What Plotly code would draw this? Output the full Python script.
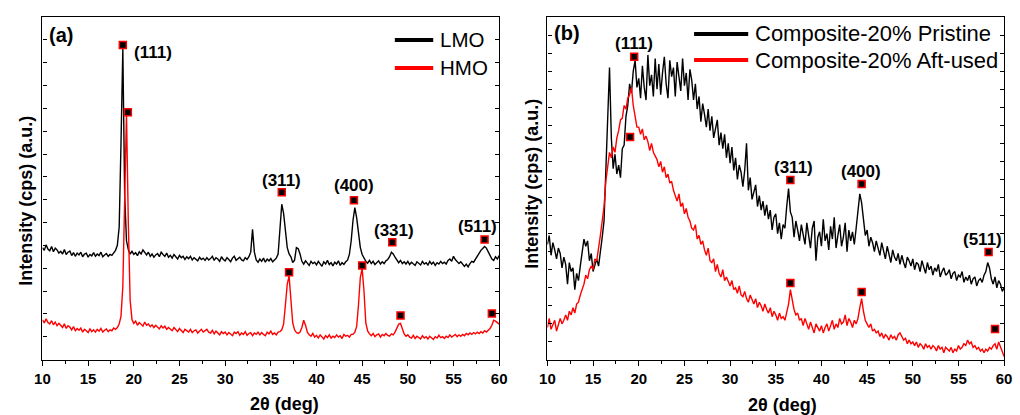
import plotly.graph_objects as go

# 2-theta sampling grid, 10-60 deg in 0.2 deg steps (251 points)
two_theta = [round(10 + 0.2 * i, 1) for i in range(251)]

# ---- panel (a): LMO / HMO -------------------------------------------------
lmo = [
    4.90, 4.78, 5.02, 4.84, 4.76, 4.95, 4.72, 4.88, 4.80, 4.66,
    4.74, 4.62, 4.82, 4.60, 4.70, 4.75, 4.55, 4.68, 4.52, 4.66,
    4.58, 4.70, 4.50, 4.62, 4.66, 4.48, 4.60, 4.54, 4.68, 4.52,
    4.62, 4.55, 4.70, 4.50, 4.58, 4.64, 4.52, 4.60, 4.56, 4.70,
    4.78, 5.00, 5.80, 9.50, 13.60, 7.20, 5.20, 4.82, 4.62, 4.74,
    4.60, 4.68, 4.55, 4.72, 4.62, 4.80, 4.66, 4.58, 4.70, 4.52,
    4.62, 4.48, 4.58, 4.64, 4.50, 4.70, 4.60, 4.52, 4.66, 4.48,
    4.56, 4.44, 4.60, 4.50, 4.40, 4.56, 4.46, 4.52, 4.38, 4.50,
    4.42, 4.52, 4.36, 4.46, 4.40, 4.32, 4.48, 4.38, 4.44, 4.34,
    4.46, 4.36, 4.42, 4.52, 4.34, 4.46, 4.40, 4.30, 4.50, 4.38,
    4.32, 4.46, 4.38, 4.28, 4.44, 4.52, 4.34, 4.42, 4.48, 4.36,
    4.32, 4.46, 4.38, 4.50, 4.70, 5.70, 4.70, 4.36, 4.26, 4.40,
    4.30, 4.44, 4.26, 4.40, 4.32, 4.42, 4.28, 4.36, 4.44, 4.62,
    5.60, 6.80, 6.40, 5.50, 4.90, 4.62, 4.50, 4.25, 4.35, 4.90,
    4.85, 4.62, 4.30, 4.18, 4.32, 4.22, 4.12, 4.30, 4.20, 4.26,
    4.14, 4.30, 4.20, 4.08, 4.28, 4.18, 4.34, 4.16, 4.24, 4.10,
    4.26, 4.18, 4.32, 4.12, 4.24, 4.16, 4.28, 4.35, 4.60, 5.20,
    6.10, 6.65, 6.20, 5.40, 4.90, 4.60, 4.42, 4.30, 4.22, 4.34,
    4.20, 4.30, 4.16, 4.26, 4.32, 4.18, 4.28, 4.20, 4.32, 4.38,
    4.50, 4.70, 4.62, 4.48, 4.36, 4.24, 4.34, 4.20, 4.28, 4.18,
    4.30, 4.16, 4.26, 4.20, 4.12, 4.28, 4.22, 4.14, 4.30, 4.18,
    4.24, 4.14, 4.30, 4.18, 4.26, 4.12, 4.24, 4.18, 4.30, 4.20,
    4.26, 4.18, 4.34, 4.40, 4.30, 4.52, 4.38, 4.28, 4.20, 4.28,
    4.16, 4.08, 4.18, 4.06, 4.20, 4.30, 4.26, 4.40, 4.48, 4.62,
    4.78, 4.86, 4.95, 4.88, 4.72, 4.56, 4.40, 4.34, 4.50, 4.40,
    4.55,
]

hmo = [
    1.74, 1.60, 1.78, 1.62, 1.56, 1.70, 1.52, 1.64, 1.48, 1.58,
    1.50, 1.40, 1.56, 1.36, 1.48, 1.42, 1.30, 1.44, 1.26, 1.36,
    1.28, 1.38, 1.20, 1.32, 1.26, 1.18, 1.34, 1.22, 1.30, 1.20,
    1.32, 1.24, 1.36, 1.20, 1.28, 1.34, 1.22, 1.30, 1.26, 1.38,
    1.32, 1.40, 1.55, 1.90, 3.20, 7.50, 10.80, 6.00, 2.60, 1.75,
    1.58, 1.68, 1.50, 1.62, 1.54, 1.46, 1.64, 1.50, 1.56, 1.44,
    1.52, 1.40, 1.50, 1.44, 1.34, 1.48, 1.38, 1.46, 1.32, 1.40,
    1.34, 1.26, 1.40, 1.30, 1.22, 1.36, 1.28, 1.18, 1.32, 1.24,
    1.20, 1.32, 1.18, 1.26, 1.30, 1.16, 1.24, 1.32, 1.20, 1.28,
    1.32, 1.20, 1.16, 1.28, 1.12, 1.24, 1.18, 1.08, 1.22, 1.14,
    1.20, 1.08, 1.18, 1.12, 1.04, 1.20, 1.14, 1.22, 1.06, 1.16,
    1.10, 1.22, 1.06, 1.14, 1.18, 1.04, 1.16, 1.10, 1.20, 1.08,
    1.18, 1.10, 1.04, 1.20, 1.12, 1.24, 1.10, 1.16, 1.08, 1.20,
    1.22, 1.30, 1.55, 2.40, 3.30, 3.65, 2.60, 1.60, 1.30, 1.18,
    1.14, 1.20, 1.40, 1.72, 1.50, 1.20, 1.08, 1.02, 1.14, 0.98,
    1.06, 0.94, 1.08, 1.00, 0.90, 1.04, 0.96, 1.08, 0.94, 1.02,
    0.96, 1.08, 0.98, 1.04, 0.92, 1.10, 1.02, 1.06, 0.98, 1.10,
    1.10, 1.20, 1.45, 2.40, 3.60, 3.98, 3.00, 1.60, 1.25, 1.12,
    1.04, 1.14, 1.00, 1.08, 1.12, 0.98, 1.10, 1.04, 1.14, 1.06,
    1.02, 1.12, 1.08, 1.20, 1.36, 1.55, 1.58, 1.30, 1.12, 1.02,
    1.08, 0.98, 0.94, 1.06, 0.92, 1.02, 0.96, 0.90, 1.04, 0.94,
    1.00, 0.90, 1.02, 0.96, 0.88, 1.00, 0.94, 1.06, 0.96, 1.00,
    0.92, 1.02, 0.96, 1.08, 0.98, 1.04, 1.10, 1.00, 1.08, 1.02,
    1.10, 1.04, 1.14, 1.08, 1.16, 1.10, 1.18, 1.12, 1.20, 1.14,
    1.22, 1.16, 1.26, 1.20, 1.28, 1.36, 1.50, 1.72, 1.68, 1.62,
    1.55,
]

# ---- panel (b): Composite-20% pristine / after use ------------------------
pristine = [
    6.40, 6.90, 5.80, 6.50, 6.10, 5.60, 6.20, 5.90, 5.10, 5.70,
    5.30, 4.20, 5.40, 4.90, 5.10, 3.90, 4.80, 4.40, 5.20, 5.90,
    6.70, 6.30, 6.60, 5.50, 5.90, 4.90, 5.30, 5.60, 5.20, 5.90,
    6.80, 7.70, 10.40, 12.60, 16.20, 12.30, 10.60, 11.40, 10.30, 10.80,
    10.10, 11.70, 11.90, 13.50, 14.10, 15.30, 14.80, 16.00, 16.60, 15.10,
    15.60, 14.50, 16.30, 15.10, 14.40, 16.90, 15.20, 15.80, 14.60, 16.70,
    15.00, 16.40, 14.70, 15.90, 16.80, 15.30, 14.50, 16.60, 15.70, 16.20,
    14.60, 16.50, 15.60, 14.90, 16.70, 15.20, 15.90, 14.40, 16.10, 15.50,
    14.40, 15.30, 13.90, 14.60, 13.20, 14.20, 13.60, 12.90, 13.90, 12.70,
    13.50, 12.30, 12.80, 13.30, 11.90, 12.60, 11.70, 12.50, 11.20, 12.00,
    10.90, 11.80, 10.50, 11.20, 10.00, 10.80, 10.40, 9.60, 10.50, 12.00,
    9.40, 10.10, 8.90, 9.30, 9.70, 8.50, 9.10, 8.30, 8.80, 8.00,
    8.60, 7.80, 8.30, 7.20, 7.90, 8.10, 7.00, 7.60, 6.70, 7.50,
    7.30, 8.50, 9.50, 8.20, 7.90, 6.80, 7.70, 7.20, 6.60, 7.50,
    7.00, 6.40, 7.60, 6.90, 6.20, 7.30, 7.70, 5.50, 6.80, 7.10,
    6.30, 7.80, 6.60, 7.00, 6.10, 7.40, 6.70, 7.90, 6.20, 6.90,
    7.50, 6.30, 6.80, 7.60, 6.00, 7.20, 6.60, 7.10, 6.40, 7.30,
    8.10, 9.20, 8.70, 7.60, 6.90, 7.20, 6.30, 6.80, 6.50, 6.00,
    6.60, 6.20, 5.80, 6.50, 6.00, 5.60, 6.30, 5.90, 5.40, 6.10,
    5.70, 5.50, 5.90, 5.30, 5.80, 5.40, 5.10, 5.70, 5.50, 5.20,
    5.60, 5.00, 5.40, 5.30, 4.90, 5.50, 5.10, 4.80, 5.40, 5.00,
    5.20, 4.70, 5.10, 4.90, 5.30, 4.60, 4.90, 5.10, 4.70, 4.80,
    5.00, 4.50, 4.80, 4.90, 4.40, 4.70, 4.60, 4.90, 4.30, 4.60,
    4.40, 4.70, 4.20, 4.50, 4.60, 4.10, 4.40, 4.50, 4.30, 4.70,
    4.90, 5.40, 5.10, 4.50, 4.20, 4.60, 4.00, 4.40, 4.20, 3.80,
    4.00,
]

aft_used = [
    1.80, 2.30, 1.70, 2.00, 2.20, 1.60, 1.90, 2.30, 2.00, 2.20,
    2.50, 2.20, 2.70, 2.50, 2.90, 2.60, 3.10, 3.20, 3.60, 3.90,
    4.20, 4.70, 4.50, 5.00, 5.20, 5.00, 5.60, 5.50, 6.10, 6.90,
    7.70, 8.50, 9.90, 10.90, 11.50, 11.20, 11.80, 11.50, 12.30, 12.70,
    13.30, 13.40, 14.10, 13.90, 14.50, 14.70, 15.10, 14.10, 13.60, 12.90,
    12.90, 12.50, 12.80, 12.20, 12.40, 12.10, 11.60, 12.00, 11.50, 11.30,
    11.10, 10.70, 11.00, 10.40, 10.70, 10.10, 10.30, 9.80, 9.90, 9.40,
    9.10, 8.80, 9.20, 8.50, 8.70, 8.10, 8.40, 7.90, 7.70, 7.30,
    7.20, 7.50, 6.70, 6.90, 6.40, 6.60, 6.10, 5.80, 6.20, 5.50,
    5.40, 5.60, 4.90, 5.30, 4.80, 4.60, 5.00, 4.40, 4.60, 4.30,
    4.10, 4.40, 3.90, 4.00, 3.70, 4.10, 3.60, 3.50, 3.80, 3.40,
    3.20, 3.60, 3.30, 3.10, 3.40, 2.90, 3.20, 3.00, 2.70, 3.10,
    2.80, 2.60, 2.90, 2.40, 2.70, 2.50, 2.20, 2.60, 2.30, 2.40,
    2.20, 2.60, 3.10, 3.90, 3.30, 2.80, 2.50, 2.60, 2.20, 2.30,
    1.90, 2.30, 2.00, 1.70, 2.10, 1.80, 1.50, 2.00, 1.80, 1.60,
    1.90, 1.50, 1.80, 2.00, 1.60, 1.90, 2.20, 1.70, 2.00, 1.80,
    2.30, 2.00, 2.10, 2.50, 1.90, 2.30, 2.10, 1.80, 2.20, 2.00,
    2.30, 2.90, 3.40, 2.70, 2.20, 2.00, 1.80, 2.00, 1.60, 1.70,
    1.50, 1.60, 1.30, 1.50, 1.20, 1.40, 1.30, 1.10, 1.40, 1.20,
    1.30, 1.10, 1.40, 1.50, 1.30, 1.10, 1.20, 0.90, 1.10, 0.90,
    1.00, 0.80, 1.00, 0.70, 0.90, 0.80, 0.60, 0.90, 0.70, 0.80,
    0.60, 0.80, 0.70, 0.50, 0.80, 0.60, 0.70, 0.40, 0.70, 0.60,
    0.50, 0.70, 0.40, 0.60, 0.50, 0.80, 0.60, 0.70, 0.90, 0.80,
    1.10, 0.90, 1.00, 0.70, 0.80, 0.60, 0.70, 0.50, 0.60, 0.40,
    0.60, 0.50, 0.70, 0.60, 0.80, 0.90, 0.60, 1.00, 0.70, 0.40,
    0.20,
]

for series in (lmo, hmo, pristine, aft_used):
    assert len(series) == len(two_theta)

# spinel reflection markers and hkl labels
a_lmo_peak_x = [18.8, 36.2, 44.1, 48.3, 58.4]
a_lmo_peak_y = [13.77, 7.32, 6.97, 5.13, 5.26]
a_hmo_peak_x = [19.35, 37.0, 45.0, 49.2, 59.2]
a_hmo_peak_y = [10.83, 3.82, 4.12, 1.93, 2.02]
a_hkl = ["(111)", "(311)", "(400)", "(331)", "(511)"]
a_hkl_x = [22.1, 36.2, 44.1, 48.45, 57.6]
a_hkl_y = [13.46, 7.85, 7.63, 5.66, 5.83]

b_pri_peak_x = [19.5, 36.6, 44.4, 58.3]
b_pri_peak_y = [16.8, 9.97, 9.75, 5.98]
b_aft_peak_x = [19.05, 36.6, 44.4, 59.0]
b_aft_peak_y = [12.35, 4.27, 3.77, 1.72]
b_hkl = ["(111)", "(311)", "(400)", "(511)"]
b_hkl_x = [19.47, 36.9, 44.35, 57.6]
b_hkl_y = [17.56, 10.69, 10.42, 6.7]

x_ticks = [10, 15, 20, 25, 30, 35, 40, 45, 50, 55, 60]

BLACK = "#000000"
RED = "#ff0000"
FONT = "Liberation Sans, Arial, sans-serif"
W, H = 1020, 415

fig = go.Figure()


def add_line(x, y, color, xa, ya):
    fig.add_trace(go.Scatter(
        x=x, y=y, mode="lines", xaxis=xa, yaxis=ya, showlegend=False,
        line=dict(color=color, width=1.4), hoverinfo="skip",
    ))


def add_markers(x, y, xa, ya):
    fig.add_trace(go.Scatter(
        x=x, y=y, mode="markers", xaxis=xa, yaxis=ya, showlegend=False,
        marker=dict(symbol="square", size=7, color=BLACK,
                    line=dict(color=RED, width=1.5)),
        hoverinfo="skip",
    ))


add_line(two_theta, lmo, BLACK, "x", "y")
add_line(two_theta, hmo, RED, "x", "y")
add_markers(a_lmo_peak_x, a_lmo_peak_y, "x", "y")
add_markers(a_hmo_peak_x, a_hmo_peak_y, "x", "y")

add_line(two_theta, pristine, BLACK, "x2", "y2")
add_line(two_theta, aft_used, RED, "x2", "y2")
add_markers(b_pri_peak_x, b_pri_peak_y, "x2", "y2")
add_markers(b_aft_peak_x, b_aft_peak_y, "x2", "y2")


def px(v):
    return v / W


def py(v):
    return 1 - v / H


xaxis_common = dict(
    range=[10, 60], tickvals=x_ticks, ticks="outside", ticklen=5,
    tickwidth=1.2, tickcolor=BLACK, showline=True, linecolor=BLACK,
    linewidth=1.3, mirror=True, showgrid=False, zeroline=False,
    minor=dict(dtick=2.5, tick0=10, ticks="outside", ticklen=3,
               tickcolor=BLACK, tickwidth=1),
    tickfont=dict(family=FONT, size=15, color=BLACK, weight="bold"),
)
yaxis_common = dict(
    dtick=1, tick0=0, ticks="inside", ticklen=4, tickwidth=1,
    tickcolor=BLACK, showticklabels=False, showline=True, linecolor=BLACK,
    linewidth=1.3, mirror="allticks", showgrid=False, zeroline=False,
)

fig.update_layout(
    width=W, height=H,
    margin=dict(l=0, r=0, t=0, b=0),
    paper_bgcolor="white", plot_bgcolor="white",
    showlegend=False,
    xaxis=dict(domain=[px(35), px(499)], anchor="y", **xaxis_common),
    yaxis=dict(domain=[py(359.5), py(17)], anchor="x", range=[0, 15],
               **yaxis_common),
    xaxis2=dict(domain=[px(548), px(1012)], anchor="y2", **xaxis_common),
    yaxis2=dict(domain=[py(360), py(17)], anchor="x2", range=[0, 19],
                **yaxis_common),
)

annotations = []
bold = dict(family=FONT, color=BLACK, weight="bold")
centred = dict(showarrow=False, xanchor="center", yanchor="middle")

for txt, x, y in zip(a_hkl, a_hkl_x, a_hkl_y):
    annotations.append(dict(text=txt, x=x, y=y, xref="x", yref="y",
                            font=dict(size=17, **bold), **centred))
for txt, x, y in zip(b_hkl, b_hkl_x, b_hkl_y):
    annotations.append(dict(text=txt, x=x, y=y, xref="x2", yref="y2",
                            font=dict(size=17, **bold), **centred))

# panel tags
for tag, cx, cy in (("(a)", 54, 35), ("(b)", 568, 33)):
    annotations.append(dict(text=tag, x=px(cx), y=py(cy), xref="paper",
                            yref="paper", font=dict(size=20, **bold),
                            **centred))

# axis titles
for cx, cy in ((281, 404), (787, 405)):
    annotations.append(dict(text="2θ (deg)", x=px(cx), y=py(cy),
                            xref="paper", yref="paper",
                            font=dict(size=18, **bold), **centred))
for cx, cy in ((18, 201), (532, 184)):
    annotations.append(dict(text="Intensity (cps) (a.u.)", x=px(cx),
                            y=py(cy), xref="paper", yref="paper",
                            textangle=-90, font=dict(size=18, **bold),
                            **centred))

# legends
shapes = []
legend_items = [
    ("LMO", BLACK, 393, 432, 437, 40, 20.5),
    ("HMO", RED, 393, 432, 437, 68, 20.5),
    ("Composite-20% Pristine", BLACK, 697, 752, 757, 34, 22),
    ("Composite-20% Aft-used", RED, 697, 752, 757, 60, 22),
]
for name, color, x0, x1, tx, ty, fs in legend_items:
    shapes.append(dict(type="line", xref="paper", yref="paper",
                       x0=px(x0), x1=px(x1), y0=py(ty), y1=py(ty),
                       line=dict(color=color, width=4)))
    annotations.append(dict(text=name, x=px(tx), y=py(ty), xref="paper",
                            yref="paper", xanchor="left", yanchor="middle",
                            showarrow=False,
                            font=dict(family=FONT, size=fs, color=BLACK)))

fig.update_layout(annotations=annotations, shapes=shapes)

fig.write_html("out.html", config={"displayModeBar": False})
